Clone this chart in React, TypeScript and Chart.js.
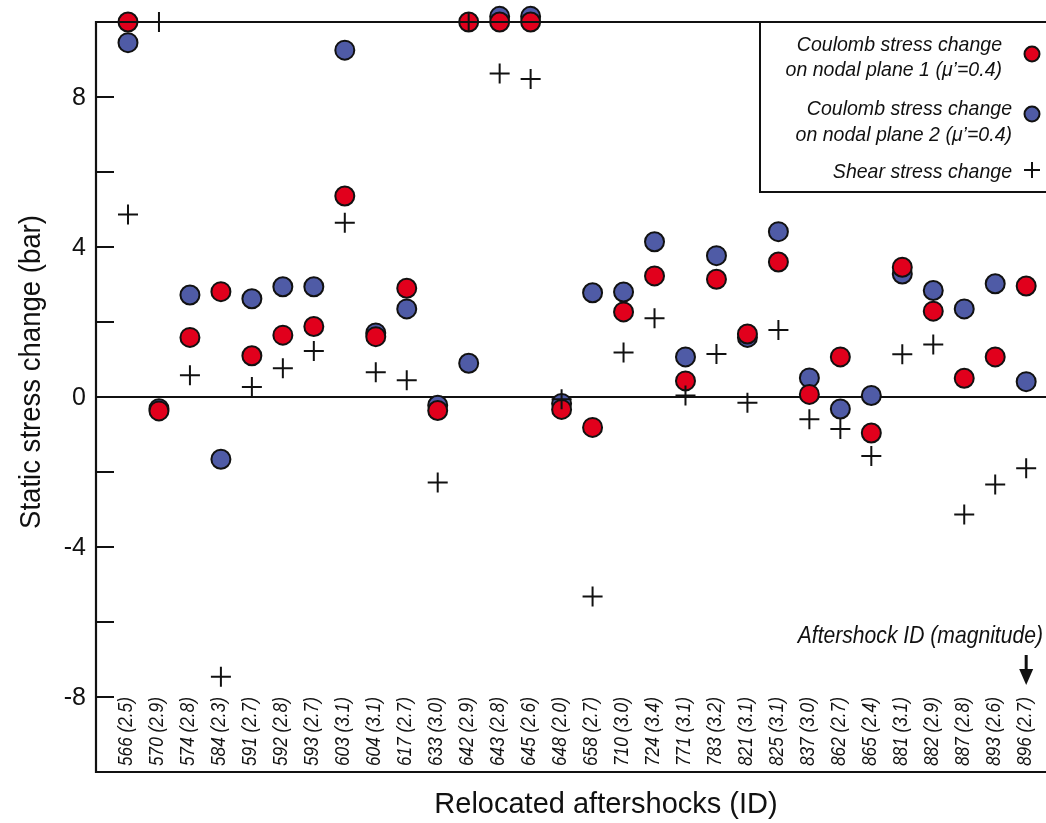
import React, { useEffect, useRef } from "react";
import { Chart, registerables } from "chart.js";

Chart.register(...registerables);

// ---------- data ----------
const aftershockIds = [
  566, 570, 574, 584, 591, 592, 593, 603, 604, 617, 633, 642, 643, 645, 648,
  658, 710, 724, 771, 783, 821, 825, 837, 862, 865, 881, 882, 887, 893, 896,
];
const magnitudes = [
  "2.5", "2.9", "2.8", "2.3", "2.7", "2.8", "2.7", "3.1", "3.1", "2.7", "3.0", "2.9", "2.8", "2.6", "2.0",
  "2.7", "3.0", "3.4", "3.1", "3.2", "3.1", "3.1", "3.0", "2.7", "2.4", "3.1", "2.9", "2.8", "2.6", "2.7",
];
const coulombPlane1 = [
  10.0, -0.37, 1.59, 2.81, 1.1, 1.65, 1.88, 5.36, 1.61, 2.9, -0.36, 10.0, 10.0, 10.0, -0.33,
  -0.81, 2.27, 3.23, 0.43, 3.14, 1.68, 3.6, 0.07, 1.07, -0.96, 3.46, 2.29, 0.5, 1.07, 2.96,
];
const coulombPlane2 = [
  9.45, -0.31, 2.72, -1.66, 2.62, 2.94, 2.94, 9.25, 1.71, 2.35, -0.22, 0.9, 10.15, 10.15, -0.17,
  2.78, 2.8, 4.14, 1.07, 3.77, 1.59, 4.41, 0.51, -0.32, 0.04, 3.28, 2.84, 2.35, 3.02, 0.41,
];
const shearStress = [
  4.87, 10.0, 0.58, -7.46, 0.27, 0.77, 1.23, 4.65, 0.66, 0.45, -2.28, 10.0, 8.63, 8.48, -0.06,
  -5.32, 1.19, 2.1, 0.04, 1.15, -0.15, 1.79, -0.59, -0.85, -1.57, 1.14, 1.4, -3.13, -2.33, -1.9,
];
const yTickMarkValues = [-8, -6, -4, -2, 0, 2, 4, 6, 8];
const yTickLabelValues = [-8, -4, 0, 4, 8];
const legendPlane1 = ["Coulomb stress change", "on nodal plane 1 (\u03bc\u2019=0.4)"];
const legendPlane2 = ["Coulomb stress change", "on nodal plane 2 (\u03bc\u2019=0.4)"];
const legendShear = "Shear stress change";
const xAxisTitle = "Relocated aftershocks (ID)";
const yAxisTitle = "Static stress change (bar)";
const annotationText = "Aftershock ID (magnitude)";

const categoryLabels = aftershockIds.map((id, i) => `${id} (${magnitudes[i]})`);

// ---------- style ----------
const RED = "#e1001c";
const BLUE = "#4f5ba6";
const INK = "#111111";
const FONT = '"Liberation Sans", Arial, Helvetica, sans-serif';

function drawText(
  ctx: CanvasRenderingContext2D,
  text: string,
  x: number,
  y: number,
  font: string,
  align: CanvasTextAlign,
  baseline: CanvasTextBaseline,
  sx = 1,
  rot = 0
) {
  ctx.save();
  ctx.translate(x, y);
  if (rot) ctx.rotate(rot);
  ctx.scale(sx, 1);
  ctx.font = font;
  ctx.fillStyle = INK;
  ctx.textAlign = align;
  ctx.textBaseline = baseline;
  ctx.fillText(text, 0, 0);
  ctx.restore();
}

const decorPlugin = {
  id: "decor",
  beforeDatasetsDraw(chart: any) {
    const { ctx, chartArea: a, scales } = chart;
    const x = scales.x;
    const y = scales.y;
    ctx.save();
    ctx.strokeStyle = INK;
    // zero line
    const y0 = y.getPixelForValue(0);
    ctx.lineWidth = 2;
    ctx.beginPath();
    ctx.moveTo(a.left, y0);
    ctx.lineTo(a.right, y0);
    ctx.stroke();
    // inside tick marks
    yTickMarkValues.forEach((v) => {
      const py = y.getPixelForValue(v);
      ctx.beginPath();
      ctx.moveTo(a.left, py);
      ctx.lineTo(a.left + 18, py);
      ctx.stroke();
    });
    ctx.restore();
    // y tick labels
    yTickLabelValues.forEach((v) => {
      drawText(ctx, String(v), a.left - 10, y.getPixelForValue(v) + 1, `25px ${FONT}`, "right", "middle");
    });
    // category labels inside the plot, rotated
    categoryLabels.forEach((lab, i) => {
      const px = x.getPixelForValue(i);
      drawText(ctx, lab, px - 1.5, a.bottom - 6, `italic 21px ${FONT}`, "left", "middle", 0.82, -Math.PI / 2);
    });
  },
  afterDatasetsDraw(chart: any) {
    const { ctx, chartArea: a, scales, width } = chart;
    const x = scales.x;
    ctx.save();
    ctx.strokeStyle = INK;
    ctx.lineWidth = 2.2;
    // frame (left, top, bottom)
    ctx.beginPath();
    ctx.moveTo(a.right + 5, a.top);
    ctx.lineTo(a.left, a.top);
    ctx.lineTo(a.left, a.bottom);
    ctx.lineTo(a.right + 5, a.bottom);
    ctx.stroke();
    // legend box
    const boxL = 760;
    const boxB = 192;
    ctx.lineWidth = 2;
    ctx.beginPath();
    ctx.moveTo(boxL, a.top);
    ctx.lineTo(boxL, boxB);
    ctx.lineTo(width + 5, boxB);
    ctx.stroke();
    // legend markers
    const mx = 1032;
    ctx.lineWidth = 2;
    ctx.fillStyle = RED;
    ctx.beginPath();
    ctx.arc(mx, 54, 7.5, 0, Math.PI * 2);
    ctx.fill();
    ctx.stroke();
    ctx.fillStyle = BLUE;
    ctx.beginPath();
    ctx.arc(mx, 114, 7.5, 0, Math.PI * 2);
    ctx.fill();
    ctx.stroke();
    ctx.beginPath();
    ctx.moveTo(mx - 8, 170);
    ctx.lineTo(mx + 8, 170);
    ctx.moveTo(mx, 162);
    ctx.lineTo(mx, 178);
    ctx.stroke();
    ctx.restore();
    const lf = `italic 21px ${FONT}`;
    drawText(ctx, legendPlane1[0], 1002, 50.5, lf, "right", "alphabetic", 0.93);
    drawText(ctx, legendPlane1[1], 1002, 75.5, lf, "right", "alphabetic", 0.93);
    drawText(ctx, legendPlane2[0], 1012, 114.5, lf, "right", "alphabetic", 0.93);
    drawText(ctx, legendPlane2[1], 1012, 140.5, lf, "right", "alphabetic", 0.93);
    drawText(ctx, legendShear, 1012, 177.5, lf, "right", "alphabetic", 0.93);
    // annotation + arrow
    drawText(ctx, annotationText, 1043, 643, `italic 24px ${FONT}`, "right", "alphabetic", 0.88);
    const ax = x.getPixelForValue(aftershockIds.length - 1);
    ctx.save();
    ctx.strokeStyle = INK;
    ctx.fillStyle = INK;
    ctx.lineWidth = 3;
    ctx.beginPath();
    ctx.moveTo(ax, 655);
    ctx.lineTo(ax, 672);
    ctx.stroke();
    ctx.beginPath();
    ctx.moveTo(ax - 7, 669);
    ctx.lineTo(ax + 7, 669);
    ctx.lineTo(ax, 685);
    ctx.closePath();
    ctx.fill();
    ctx.restore();
    // axis titles
    drawText(ctx, xAxisTitle, 606, 813, `29px ${FONT}`, "center", "alphabetic", 1);
    drawText(ctx, yAxisTitle, 40, 372, `29px ${FONT}`, "center", "alphabetic", 0.95, -Math.PI / 2);
  },
};

export default function App() {
  const ref = useRef<HTMLCanvasElement>(null);
  useEffect(() => {
    document.body.style.margin = "0";
    const canvas = ref.current;
    if (!canvas) return;
    const toPts = (arr: number[]) => arr.map((v, i) => ({ x: i, y: v }));
    const chart = new Chart(canvas, {
      type: "scatter",
      data: {
        datasets: [
          {
            label: legendShear,
            data: toPts(shearStress),
            pointStyle: "cross",
            pointRadius: 10,
            pointBorderWidth: 2,
            pointBorderColor: INK,
            pointBackgroundColor: INK,
            order: 0,
            clip: false,
          } as any,
          {
            label: legendPlane1.join(" "),
            data: toPts(coulombPlane1),
            pointStyle: "circle",
            pointRadius: 9.5,
            pointBorderWidth: 2,
            pointBorderColor: INK,
            pointBackgroundColor: RED,
            order: 1,
            clip: false,
          } as any,
          {
            label: legendPlane2.join(" "),
            data: toPts(coulombPlane2),
            pointStyle: "circle",
            pointRadius: 9.5,
            pointBorderWidth: 2,
            pointBorderColor: INK,
            pointBackgroundColor: BLUE,
            order: 2,
            clip: false,
          } as any,
        ],
      },
      options: {
        animation: false,
        responsive: false,
        devicePixelRatio: 1,
        events: [],
        layout: { autoPadding: false, padding: { left: 96, top: 22, right: 0, bottom: 51 } },
        plugins: {
          legend: { display: false },
          tooltip: { enabled: false },
        },
        scales: {
          x: { type: "linear", min: -1.033, max: 29.64, display: false },
          y: { type: "linear", min: -10, max: 10, display: false },
        },
      },
      plugins: [decorPlugin],
    });
    return () => chart.destroy();
  }, []);
  return (
    <div style={{ width: 1046, height: 823, position: "relative" }}>
      <canvas ref={ref} width={1046} height={823} style={{ display: "block" }} />
    </div>
  );
}
